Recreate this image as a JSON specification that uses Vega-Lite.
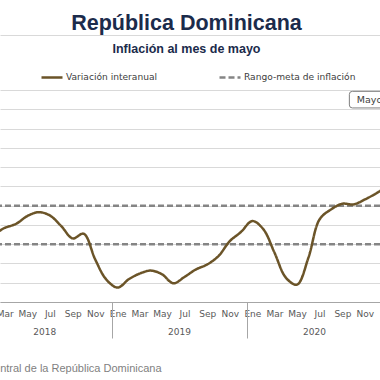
{
  "$schema": "https://vega.github.io/schema/vega-lite/v6.json",
  "width": 380,
  "height": 212,
  "autosize": {"type": "none"},
  "padding": {"left": 0, "right": 0, "top": 90, "bottom": 78},
  "title": {
    "text": "República Dominicana",
    "font": "Liberation Sans",
    "fontSize": 21.5,
    "fontWeight": "bold",
    "color": "#1b2b4b",
    "anchor": "middle",
    "dx": -3.5,
    "offset": 1
  },
  "config": {
    "view": {"stroke": null},
    "axisY": {
      "grid": true,
      "gridColor": "#d9d9d9",
      "gridWidth": 1,
      "labels": false,
      "ticks": false,
      "domain": false,
      "title": null
    },
    "axisX": {"grid": false}
  },
  "datasets": {
    "inflacion": [
      {"fecha": "2018-01-16", "valor": 4.2, "serie": "Variación interanual"},
      {"fecha": "2018-02-15", "valor": 3.6, "serie": "Variación interanual"},
      {"fecha": "2018-03-16", "valor": 3.85, "serie": "Variación interanual"},
      {"fecha": "2018-04-16", "valor": 4.06, "serie": "Variación interanual"},
      {"fecha": "2018-05-16", "valor": 4.46, "serie": "Variación interanual"},
      {"fecha": "2018-06-16", "valor": 4.66, "serie": "Variación interanual"},
      {"fecha": "2018-07-16", "valor": 4.49, "serie": "Variación interanual"},
      {"fecha": "2018-08-16", "valor": 3.94, "serie": "Variación interanual"},
      {"fecha": "2018-09-16", "valor": 3.3, "serie": "Variación interanual"},
      {"fecha": "2018-10-16", "valor": 3.54, "serie": "Variación interanual"},
      {"fecha": "2018-11-16", "valor": 2.21, "serie": "Variación interanual"},
      {"fecha": "2018-12-16", "valor": 1.17, "serie": "Variación interanual"},
      {"fecha": "2019-01-16", "valor": 0.75, "serie": "Variación interanual"},
      {"fecha": "2019-02-15", "valor": 1.18, "serie": "Variación interanual"},
      {"fecha": "2019-03-16", "valor": 1.47, "serie": "Variación interanual"},
      {"fecha": "2019-04-16", "valor": 1.63, "serie": "Variación interanual"},
      {"fecha": "2019-05-16", "valor": 1.44, "serie": "Variación interanual"},
      {"fecha": "2019-06-16", "valor": 0.97, "serie": "Variación interanual"},
      {"fecha": "2019-07-16", "valor": 1.3, "serie": "Variación interanual"},
      {"fecha": "2019-08-16", "valor": 1.69, "serie": "Variación interanual"},
      {"fecha": "2019-09-16", "valor": 1.95, "serie": "Variación interanual"},
      {"fecha": "2019-10-16", "valor": 2.38, "serie": "Variación interanual"},
      {"fecha": "2019-11-16", "valor": 3.16, "serie": "Variación interanual"},
      {"fecha": "2019-12-16", "valor": 3.63, "serie": "Variación interanual"},
      {"fecha": "2020-01-16", "valor": 4.2, "serie": "Variación interanual"},
      {"fecha": "2020-02-15", "valor": 3.77, "serie": "Variación interanual"},
      {"fecha": "2020-03-16", "valor": 2.56, "serie": "Variación interanual"},
      {"fecha": "2020-04-16", "valor": 1.26, "serie": "Variación interanual"},
      {"fecha": "2020-05-16", "valor": 0.9, "serie": "Variación interanual"},
      {"fecha": "2020-06-16", "valor": 2.3, "serie": "Variación interanual"},
      {"fecha": "2020-07-16", "valor": 4.28, "serie": "Variación interanual"},
      {"fecha": "2020-08-16", "valor": 4.8, "serie": "Variación interanual"},
      {"fecha": "2020-09-16", "valor": 5.1, "serie": "Variación interanual"},
      {"fecha": "2020-10-16", "valor": 5.06, "serie": "Variación interanual"},
      {"fecha": "2020-11-16", "valor": 5.32, "serie": "Variación interanual"},
      {"fecha": "2020-12-16", "valor": 5.63, "serie": "Variación interanual"},
      {"fecha": "2021-01-16", "valor": 6.0, "serie": "Variación interanual"}
    ],
    "meta": [
      {"valor": 5, "serie": "Rango-meta de inflación"},
      {"valor": 3, "serie": "Rango-meta de inflación"}
    ],
    "nota": [
      {"fecha": "2020-10-25", "valor": 10.5, "nota": "Mayo 2021"}
    ]
  },
  "layer": [
    {
      "data": {"name": "meta"},
      "mark": {"type": "rule", "strokeWidth": 2.5},
      "encoding": {
        "y": {"field": "valor", "type": "quantitative", "scale": {"domain": [0, 11], "nice": false},
              "axis": {"title": null, "values": [0, 1, 2, 3, 4, 5, 6, 7, 8, 9, 10, 11]}},
        "stroke": {
          "field": "serie", "type": "nominal",
          "scale": {"domain": ["Variación interanual", "Rango-meta de inflación"], "range": ["#6b5428", "#858585"]},
          "legend": {
            "orient": "none", "legendX": 40, "legendY": -25, "direction": "horizontal",
            "title": null, "symbolType": "stroke", "symbolSize": 441, "symbolStrokeWidth": 2.5,
            "labelFont": "DejaVu Sans", "labelFontSize": 9.1, "labelColor": "#404040",
            "labelOffset": 2, "columnPadding": 56, "padding": 0
          }
        },
        "strokeDash": {
          "field": "serie", "type": "nominal",
          "scale": {"domain": ["Variación interanual", "Rango-meta de inflación"], "range": [[1, 0], [6, 3]]},
          "legend": {
            "orient": "none", "legendX": 40, "legendY": -25, "direction": "horizontal",
            "title": null, "symbolType": "stroke", "symbolSize": 441, "symbolStrokeWidth": 2.5,
            "labelFont": "DejaVu Sans", "labelFontSize": 9.1, "labelColor": "#404040",
            "labelOffset": 2, "columnPadding": 56, "padding": 0
          }
        }
      }
    },
    {
      "data": {"name": "inflacion"},
      "mark": {"type": "line", "interpolate": "catmull-rom", "strokeWidth": 2.5, "clip": true},
      "encoding": {
        "x": {
          "field": "fecha", "type": "temporal",
          "scale": {"type": "utc", "domain": [{"year": 2018, "month": 3, "date": 3, "utc": true}, {"year": 2020, "month": 12, "date": 27, "utc": true}]},
          "axis": {
            "orient": "bottom",
            "values": [
              {"year": 2018, "month": 3, "date": 16, "utc": true},
              {"year": 2018, "month": 5, "date": 16, "utc": true},
              {"year": 2018, "month": 7, "date": 16, "utc": true},
              {"year": 2018, "month": 9, "date": 16, "utc": true},
              {"year": 2018, "month": 11, "date": 16, "utc": true},
              {"year": 2019, "month": 1, "date": 16, "utc": true},
              {"year": 2019, "month": 3, "date": 16, "utc": true},
              {"year": 2019, "month": 5, "date": 16, "utc": true},
              {"year": 2019, "month": 7, "date": 16, "utc": true},
              {"year": 2019, "month": 9, "date": 16, "utc": true},
              {"year": 2019, "month": 11, "date": 16, "utc": true},
              {"year": 2020, "month": 1, "date": 16, "utc": true},
              {"year": 2020, "month": 3, "date": 16, "utc": true},
              {"year": 2020, "month": 5, "date": 16, "utc": true},
              {"year": 2020, "month": 7, "date": 16, "utc": true},
              {"year": 2020, "month": 9, "date": 16, "utc": true},
              {"year": 2020, "month": 11, "date": 16, "utc": true}
            ],
            "labelExpr": "['Ene','Feb','Mar','Abr','May','Jun','Jul','Ago','Sep','Oct','Nov','Dic'][utcmonth(datum.value)]",
            "ticks": false, "tickSize": 0, "labelPadding": 7,
            "labelFont": "DejaVu Sans", "labelFontSize": 9, "labelColor": "#595959",
            "labelOverlap": false, "labelFlush": false, "labelBound": false,
            "domain": true, "domainColor": "#a6a6a6", "domainWidth": 1, "grid": false,
            "title": "Fuente: Banco Central de la República Dominicana",
            "titleFont": "Liberation Sans", "titleFontSize": 11, "titleFontWeight": "normal",
            "titleColor": "#7f7f7f", "titleX": -89, "titleY": 66, "titleAlign": "left",
            "titleBaseline": "middle", "titleAnchor": "start"
          }
        },
        "y": {"field": "valor", "type": "quantitative", "scale": {"domain": [0, 11], "nice": false},
              "axis": {"title": null, "values": [0, 1, 2, 3, 4, 5, 6, 7, 8, 9, 10, 11]}},
        "stroke": {"field": "serie", "type": "nominal"},
        "strokeDash": {"field": "serie", "type": "nominal"}
      }
    },
    {
      "data": {"name": "nota"},
      "mark": {
        "type": "point", "filled": false, "fill": "white", "fillOpacity": 1,
        "stroke": "#7f7f7f", "strokeWidth": 1, "opacity": 1, "size": 276,
        "shape": "M-0.53,-1 H7 V1 H-0.53 Q-0.89,1 -0.89,0.64 V-0.64 Q-0.89,-1 -0.53,-1 Z"
      },
      "encoding": {
        "x": {
          "field": "fecha", "type": "temporal",
          "scale": {"type": "utc", "domain": [{"year": 2018, "month": 3, "date": 3, "utc": true}, {"year": 2020, "month": 12, "date": 27, "utc": true}]},
          "axis": {
            "orient": "top", "offset": 55, "labels": false, "ticks": false, "grid": false,
            "domain": true, "domainColor": "#d9d9d9", "domainWidth": 1,
            "title": "Inflación al mes de mayo",
            "titleFont": "Liberation Sans", "titleFontSize": 12.5, "titleFontWeight": "bold",
            "titleColor": "#1b2b4b", "titleX": 186, "titleY": 17.6, "titleAlign": "center",
            "titleBaseline": "alphabetic"
          }
        },
        "y": {"field": "valor", "type": "quantitative", "scale": {"domain": [0, 11], "nice": false},
              "axis": {"title": null, "values": [0, 1, 2, 3, 4, 5, 6, 7, 8, 9, 10, 11]}}
      }
    },
    {
      "data": {"name": "nota"},
      "mark": {"type": "text", "align": "left", "baseline": "middle", "font": "DejaVu Sans", "fontSize": 9.5, "color": "#404040"},
      "encoding": {
        "x": {
          "field": "fecha", "type": "temporal",
          "scale": {"type": "utc", "domain": [{"year": 2018, "month": 3, "date": 3, "utc": true}, {"year": 2020, "month": 12, "date": 27, "utc": true}]},
          "axis": {
            "orient": "bottom",
            "values": [
              {"year": 2018, "month": 7, "date": 1, "utc": true},
              {"year": 2019, "month": 1, "date": 1, "utc": true},
              {"year": 2019, "month": 7, "date": 1, "utc": true},
              {"year": 2020, "month": 1, "date": 1, "utc": true},
              {"year": 2020, "month": 7, "date": 1, "utc": true}
            ],
            "labelExpr": "utcmonth(datum.value) == 6 ? '' + utcyear(datum.value) : ''",
            "ticks": true, "tickSize": 36, "tickColor": "#a6a6a6", "tickWidth": 1,
            "tickOpacity": {"condition": {"test": "utcmonth(datum.value) == 0", "value": 1}, "value": 0},
            "labelPadding": -11, "labelFont": "DejaVu Sans", "labelFontSize": 9, "labelColor": "#595959",
            "labelOverlap": false, "labelFlush": false, "labelBound": false,
            "domain": false, "grid": false, "title": null
          }
        },
        "y": {"field": "valor", "type": "quantitative", "scale": {"domain": [0, 11], "nice": false},
              "axis": {"title": null, "values": [0, 1, 2, 3, 4, 5, 6, 7, 8, 9, 10, 11]}},
        "text": {"field": "nota", "type": "nominal"}
      }
    }
  ],
  "resolve": {"axis": {"x": "independent"}}
}
